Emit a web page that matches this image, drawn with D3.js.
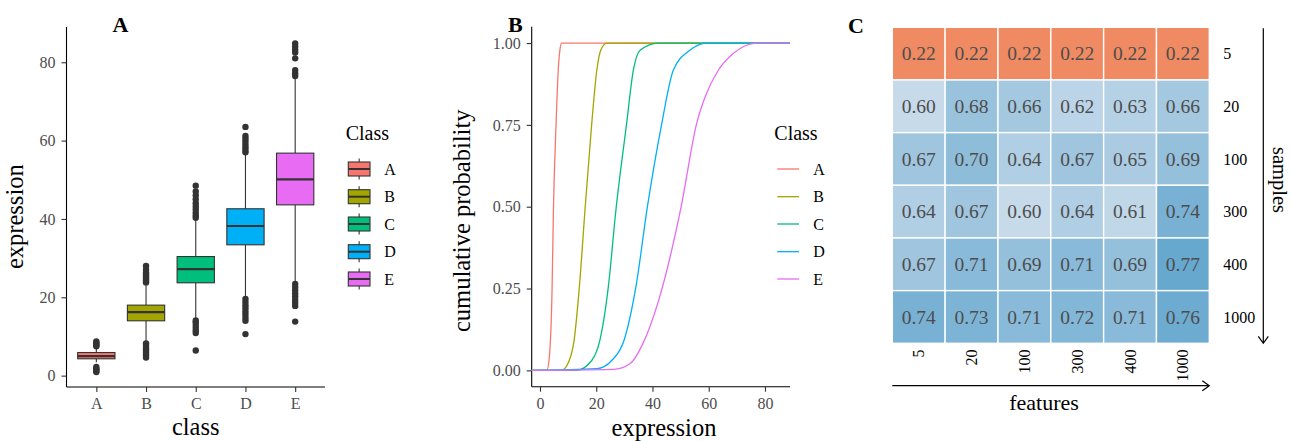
<!DOCTYPE html>
<html><head><meta charset="utf-8">
<script src="https://cdn.jsdelivr.net/npm/d3@7"></script>
<style>
html,body{margin:0;padding:0;background:#fff;}
svg{display:block;}
svg text{font-family:"Liberation Serif","Times New Roman",serif !important;}
</style></head>
<body><svg id="c" width="1292" height="441"></svg>
<script>
// ---------- DATA ----------
const classes = ["A","B","C","D","E"];
const classColors = ["#F8766D","#A3A500","#00BF7D","#00B0F6","#E76BF3"];
// boxplot stats
const boxQ1 = [4.3, 14.0, 23.7, 33.4, 43.6];
const boxMedian = [5.0, 16.2, 27.2, 38.2, 50.1];
const boxQ3 = [5.9, 18.0, 30.4, 42.6, 56.8];
const whiskerLow = [3.4, 8.6, 14.4, 20.0, 24.0];
const whiskerHigh = [7.1, 23.5, 40.0, 56.5, 76.0];
const outliers = [
  [7.5, 7.8, 8.1, 8.4, 8.7, 0.9, 1.2, 1.5, 1.8, 2.2],
  [23.8, 24.3, 24.8, 25.3, 25.8, 26.3, 27.0, 28.0, 4.6, 5.2, 5.8, 6.4, 7.0, 7.6, 8.2],
  [40.3, 40.9, 41.6, 42.4, 43.2, 44.0, 45.0, 46.0, 47.0, 48.5, 10.9, 11.5, 12.2, 12.9, 13.6, 14.1, 6.4],
  [57.0, 57.6, 58.3, 59.0, 59.8, 60.5, 61.2, 63.5, 14.0, 14.8, 15.6, 16.4, 17.2, 18.0, 18.8, 19.6, 10.6],
  [76.5, 77.2, 78.0, 81.0, 82.5, 83.2, 84.0, 84.8, 17.8, 18.6, 19.4, 20.2, 21.0, 21.8, 22.6, 23.4, 13.8]
];
const boxYTicks = [0, 20, 40, 60, 80];

// ECDF points: [expression, cumulative probability]
const ecdfA = [[2.4,0],[3.2,0.03],[4.3,0.25],[4.8,0.5],[5.7,0.75],[6.5,0.92],[7.1,0.98],[7.7,1]];
const ecdfB = [[7.7,0],[10.4,0.03],[12.1,0.09],[14.0,0.255],[16.0,0.49],[18.4,0.754],[20.2,0.917],[21.6,0.978],[23.7,1]];
const ecdfC = [[13.0,0],[18.4,0.03],[21.3,0.092],[24.3,0.255],[27.0,0.49],[30.8,0.754],[33.2,0.917],[35.6,0.978],[42.1,1]];
const ecdfD = [[20.2,0.005],[25.5,0.03],[29.9,0.092],[34.1,0.255],[38.2,0.5],[43.3,0.754],[47.4,0.917],[53.3,0.978],[59.3,1]];
const ecdfE = [[26.1,0.003],[32.0,0.02],[36.5,0.08],[42.4,0.22],[50.2,0.5],[55.7,0.754],[58.7,0.835],[63.4,0.917],[68.7,0.968],[77.0,1]];
const ecdfSeries = [ecdfA, ecdfB, ecdfC, ecdfD, ecdfE];
const ecdfXTicks = [0, 20, 40, 60, 80];
const ecdfYTicks = [0, 0.25, 0.5, 0.75, 1];

// heatmap
const features = ["5","20","100","300","400","1000"];
const samples = ["5","20","100","300","400","1000"];
const accuracy = [
  [0.22,0.22,0.22,0.22,0.22,0.22],
  [0.60,0.68,0.66,0.62,0.63,0.66],
  [0.67,0.70,0.64,0.67,0.65,0.69],
  [0.64,0.67,0.60,0.64,0.61,0.74],
  [0.67,0.71,0.69,0.71,0.69,0.77],
  [0.74,0.73,0.71,0.72,0.71,0.76]
];

// ---------- DRAW ----------
const svg = d3.select("#c");
const tickCol = "#4D4D4D";
const darkCol = "#333333";

function styleAxis(g, fs){
  g.attr("font-family", null);
  g.select(".domain").attr("stroke","#000").attr("stroke-width",1.1);
  g.selectAll(".tick line").attr("stroke","#333").attr("stroke-width",1.1);
  g.selectAll(".tick text").attr("fill",tickCol).attr("font-size",fs);
}

// ===== Panel A =====
const ax = d3.scalePoint().domain(classes).range([66.5, 325]).padding(0.6);
const ay = d3.scaleLinear().domain([-2.9, 89]).range([387, 27]);
const gA = svg.append("g");
const yAxA = gA.append("g").attr("transform","translate(66.5,0)")
  .call(d3.axisLeft(ay).tickValues(boxYTicks).tickSize(5).tickPadding(6));
styleAxis(yAxA, 16);
yAxA.select(".domain").attr("d","M0,"+ay.range()[1]+"V"+ay.range()[0]);
const xAxA = gA.append("g").attr("transform","translate(0,387)")
  .call(d3.axisBottom(ax).tickSize(5).tickPadding(6));
styleAxis(xAxA, 16);
xAxA.select(".domain").attr("d","M66.5,0H325");

const bw = ax.step()*0.75;
classes.forEach((c,i)=>{
  const cx = ax(c);
  const g = gA.append("g");
  g.append("line").attr("x1",cx).attr("x2",cx).attr("y1",ay(boxQ3[i])).attr("y2",ay(whiskerHigh[i])).attr("stroke",darkCol).attr("stroke-width",1.1);
  g.append("line").attr("x1",cx).attr("x2",cx).attr("y1",ay(boxQ1[i])).attr("y2",ay(whiskerLow[i])).attr("stroke",darkCol).attr("stroke-width",1.1);
  g.append("rect").attr("x",cx-bw/2).attr("width",bw).attr("y",ay(boxQ3[i])).attr("height",ay(boxQ1[i])-ay(boxQ3[i]))
    .attr("fill",classColors[i]).attr("stroke",darkCol).attr("stroke-width",1.1);
  g.append("line").attr("x1",cx-bw/2).attr("x2",cx+bw/2).attr("y1",ay(boxMedian[i])).attr("y2",ay(boxMedian[i])).attr("stroke",darkCol).attr("stroke-width",2.2);
  g.selectAll("circle").data(outliers[i]).join("circle").attr("cx",cx).attr("cy",d=>ay(d)).attr("r",3.2).attr("fill",darkCol);
});
gA.append("text").attr("x",120.5).attr("y",32).attr("text-anchor","middle").attr("font-size",22).attr("font-weight","bold").text("A");
gA.append("text").attr("x",195.7).attr("y",435).attr("text-anchor","middle").attr("font-size",24.5).text("class");
gA.append("text").attr("transform","translate(23,216.7) rotate(-90)").attr("text-anchor","middle").attr("font-size",24.5).text("expression");

// legend A
const legYs = [169, 196.7, 224, 251.7, 279];
gA.append("text").attr("x",345.7).attr("y",140).attr("font-size",20).text("Class");
classes.forEach((c,i)=>{
  const y = legYs[i], x0 = 348.3, w = 21.7, h = 14;
  gA.append("line").attr("x1",x0+w/2).attr("x2",x0+w/2).attr("y1",y-h/2-3.5).attr("y2",y+h/2+3.5).attr("stroke",darkCol).attr("stroke-width",1.1);
  gA.append("rect").attr("x",x0).attr("y",y-h/2).attr("width",w).attr("height",h).attr("fill",classColors[i]).attr("stroke",darkCol).attr("stroke-width",1.1);
  gA.append("line").attr("x1",x0).attr("x2",x0+w).attr("y1",y).attr("y2",y).attr("stroke",darkCol).attr("stroke-width",2);
  gA.append("text").attr("x",384.3).attr("y",y).attr("dy","0.35em").attr("font-size",16).text(c);
});

// ===== Panel B =====
const bx = d3.scaleLinear().domain([-2.95, 88.9]).range([531.7, 790]);
const by = d3.scaleLinear().domain([-0.05, 1.05]).range([386.7, 26.7]);
const gB = svg.append("g");
const yAxB = gB.append("g").attr("transform","translate(531.7,0)")
  .call(d3.axisLeft(by).tickValues(ecdfYTicks).tickFormat(d3.format(".2f")).tickSize(5).tickPadding(6));
styleAxis(yAxB, 16);
yAxB.select(".domain").attr("d","M0,26.7V386.7");
const xAxB = gB.append("g").attr("transform","translate(0,386.7)")
  .call(d3.axisBottom(bx).tickValues(ecdfXTicks).tickSize(5).tickPadding(6));
styleAxis(xAxB, 16);
xAxB.select(".domain").attr("d","M531.7,0H790");

const line = d3.line().x(d=>bx(d[0])).y(d=>by(d[1])).curve(d3.curveMonotoneX);
const xd = bx.domain();
ecdfSeries.forEach((s,i)=>{
  const pts = [[xd[0],0]].concat(s).concat([[xd[1],1]]);
  gB.append("path").attr("d",line(pts)).attr("fill","none").attr("stroke",classColors[i]).attr("stroke-width",1.3);
});
gB.append("text").attr("x",508).attr("y",31.5).attr("font-size",22).attr("font-weight","bold").text("B");
gB.append("text").attr("x",664).attr("y",436).attr("text-anchor","middle").attr("font-size",24.5).text("expression");
gB.append("text").attr("transform","translate(469.7,220.8) rotate(-90)").attr("text-anchor","middle").attr("font-size",24.5).text("cumulative probability");
gB.append("text").attr("x",774.3).attr("y",140).attr("font-size",20).text("Class");
classes.forEach((c,i)=>{
  const y = legYs[i];
  gB.append("line").attr("x1",777.3).attr("x2",799).attr("y1",y).attr("y2",y).attr("stroke",classColors[i]).attr("stroke-width",1.3);
  gB.append("text").attr("x",813.3).attr("y",y).attr("dy","0.35em").attr("font-size",16).text(c);
});

// ===== Panel C =====
const hx = d3.scaleBand().domain(features).range([892.3, 1209.3]);
const hy = d3.scaleBand().domain(samples).range([27.3, 343.3]);
const hcol = d3.scaleLinear().domain([0.22, 0.60, 0.77]).range(["#EF8A62","#C6DAEA","#67A8CF"]);
const gC = svg.append("g");
samples.forEach((s,r)=>{
  features.forEach((f,c)=>{
    const v = accuracy[r][c];
    gC.append("rect").attr("x",hx(f)).attr("y",hy(s)).attr("width",hx.bandwidth()).attr("height",hy.bandwidth())
      .attr("fill",hcol(v)).attr("stroke","#fff").attr("stroke-width",1.4);
    gC.append("text").attr("x",hx(f)+hx.bandwidth()/2).attr("y",hy(s)+hy.bandwidth()/2).attr("dy","0.35em")
      .attr("text-anchor","middle").attr("font-size",19.5).attr("fill","#4D4D4D").text(d3.format(".2f")(v));
  });
});
samples.forEach(s=>{
  gC.append("text").attr("x",1223.3).attr("y",hy(s)+hy.bandwidth()/2).attr("dy","0.35em").attr("font-size",16).attr("fill","#000").text(s);
});
features.forEach(f=>{
  const cx = hx(f)+hx.bandwidth()/2;
  gC.append("text").attr("transform","translate("+cx+",349.5) rotate(-90)").attr("dy","0.35em").attr("text-anchor","end").attr("font-size",16).attr("fill","#000").text(f);
});
// arrows
gC.append("path").attr("d","M892.3,385.7H1209.3M1202.3,380.7L1209.3,385.7L1202.3,390.7").attr("fill","none").attr("stroke","#000").attr("stroke-width",1.2);
gC.append("path").attr("d","M1263.3,28.3V343.3M1258.3,336.3L1263.3,343.3L1268.3,336.3").attr("fill","none").attr("stroke","#000").attr("stroke-width",1.2);
gC.append("text").attr("x",1044).attr("y",410).attr("text-anchor","middle").attr("font-size",22).text("features");
gC.append("text").attr("transform","translate(1273,180) rotate(90)").attr("text-anchor","middle").attr("font-size",20.5).text("samples");
gC.append("text").attr("x",848).attr("y",33).attr("font-size",22).attr("font-weight","bold").text("C");
</script></body></html>
